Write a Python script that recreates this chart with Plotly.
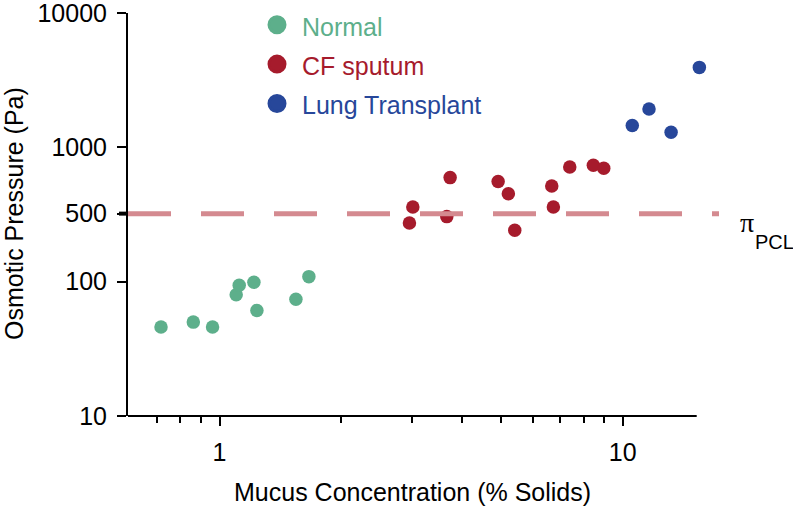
import plotly.graph_objects as go
import numpy as np

# ---- data ----
normal_x = [0.716, 0.861, 0.961, 1.10, 1.119, 1.217, 1.238, 1.547, 1.666]
normal_y = [46, 50, 46, 80, 94, 99, 61, 74, 109]

cf_x = [3.016, 2.958, 3.732, 3.662, 4.909, 5.204, 5.398, 6.668, 6.729, 7.39, 8.455, 8.973]
cf_y = [360, 273, 595, 305, 556, 452, 241, 515, 360, 714, 735, 698]

lt_x = [15.49, 11.62, 10.56, 13.18]
lt_y = [3937, 1930, 1452, 1294]

y_tickvals = [10, 100, 321, 1000, 10000]
y_ticktext = ["10", "100", "500", "1000", "10000"]
x_tickvals = [1, 10]
x_ticktext = ["1", "10"]
x_minor = [0.7, 0.8, 0.9, 2, 3, 4, 5, 6, 7, 8, 9]
pcl_level = 321  # position of the dashed "500" line as drawn

GREEN = "#5DAF8B"
RED = "#A61B2C"
BLUE = "#27479A"
PINK = "#D48A90"
FONT = "Liberation Sans, Arial, Helvetica, sans-serif"

W, H = 793, 507
L, R, T, B = 128, 83, 13, 91
PW, PH = W - L - R, H - T - B
X_LO, X_HI = 0.593, 16.46       # plotting range (room for the last marker)
X_AXIS_END = 696.7               # where the drawn x axis line stops (px)


def px_x(px):
    return (px - L) / PW


def px_y(py):
    return (H - B - py) / PH


fig = go.Figure()
series = [("Normal", normal_x, normal_y, GREEN),
          ("CF sputum", cf_x, cf_y, RED),
          ("Lung Transplant", lt_x, lt_y, BLUE)]
for name, xs, ys, col in series:
    fig.add_trace(go.Scatter(
        x=xs, y=ys, mode="markers", name=name, showlegend=False, legendgroup=name,
        marker=dict(size=13.5, color=col, line=dict(width=0)),
        cliponaxis=False, hoverinfo="x+y"))
# legend entries (bigger dots than the data markers)
for name, xs, ys, col in series:
    fig.add_trace(go.Scatter(
        x=[None], y=[None], mode="markers", legendgroup=name,
        name=f"<span style='color:{col};font-size:25px'>{name}</span>",
        marker=dict(size=16, color=col, line=dict(width=3, color=col)),
        showlegend=True, hoverinfo="skip"))

# x axis line (stops before the last marker, as in the reference)
fig.add_shape(type="line", xref="paper", yref="paper", x0=0, x1=px_x(X_AXIS_END),
              y0=0, y1=0, line=dict(color="black", width=2), layer="above")

# dashed pi_PCL line
fig.add_shape(type="line", xref="paper", yref="y", x0=0, x1=px_x(719),
              y0=pcl_level, y1=pcl_level,
              line=dict(color=PINK, width=5, dash="43px,30px"))
# thicker 500 tick
fig.add_shape(type="line", xref="paper", yref="y", x0=-9 / PW, x1=0,
              y0=pcl_level, y1=pcl_level, line=dict(color="black", width=4))

fig.add_annotation(text="π", xref="paper", yref="paper",
                   x=px_x(747), y=px_y(222), showarrow=False,
                   font=dict(family="Liberation Serif, Times New Roman, serif", size=28, color="black"),
                   xanchor="center", yanchor="middle")
fig.add_annotation(text="PCL", xref="paper", yref="paper",
                   x=px_x(774), y=px_y(242), showarrow=False,
                   font=dict(family=FONT, size=20, color="black"),
                   xanchor="center", yanchor="middle")

# axis titles
fig.add_annotation(text="Mucus Concentration (% Solids)", xref="paper", yref="paper",
                   x=px_x(412.5), y=px_y(492), showarrow=False,
                   font=dict(family=FONT, size=25, color="black"),
                   xanchor="center", yanchor="middle")
fig.add_annotation(text="Osmotic Pressure (Pa)", xref="paper", yref="paper",
                   x=px_x(14), y=px_y(214), showarrow=False, textangle=-90,
                   font=dict(family=FONT, size=25, color="black"),
                   xanchor="center", yanchor="middle")

fig.update_layout(
    width=W, height=H,
    margin=dict(l=L, r=R, t=T, b=B, autoexpand=False),
    paper_bgcolor="white", plot_bgcolor="white",
    font=dict(family=FONT, size=25, color="black"),
    showlegend=True,
    legend=dict(x=px_x(252), y=px_y(0), xanchor="left", yanchor="top",
                font=dict(family=FONT, size=28), itemwidth=40,
                bgcolor="rgba(0,0,0,0)", tracegroupgap=0),
    xaxis=dict(type="log", range=[np.log10(X_LO), np.log10(X_HI)],
               showgrid=False, zeroline=False, showline=False,
               ticks="outside", ticklen=9, tickwidth=2, tickcolor="black",
               tickvals=x_tickvals, ticktext=x_ticktext, ticklabelstandoff=5,
               ticklabeloverflow="allow", tickfont=dict(size=25),
               minor=dict(tickvals=x_minor, ticks="outside", ticklen=6, tickwidth=2,
                          tickcolor="black", showgrid=False)),
    yaxis=dict(type="log", range=[1, 4],
               showgrid=False, zeroline=False, showline=True, linecolor="black", linewidth=2,
               ticks="outside", ticklen=9, tickwidth=2, tickcolor="black",
               tickvals=y_tickvals, ticktext=y_ticktext, ticklabelstandoff=5,
               ticklabeloverflow="allow", tickfont=dict(size=25)),
)

fig.write_html("out.html", config={"displayModeBar": False},
               post_script="document.body.style.margin='0';")
